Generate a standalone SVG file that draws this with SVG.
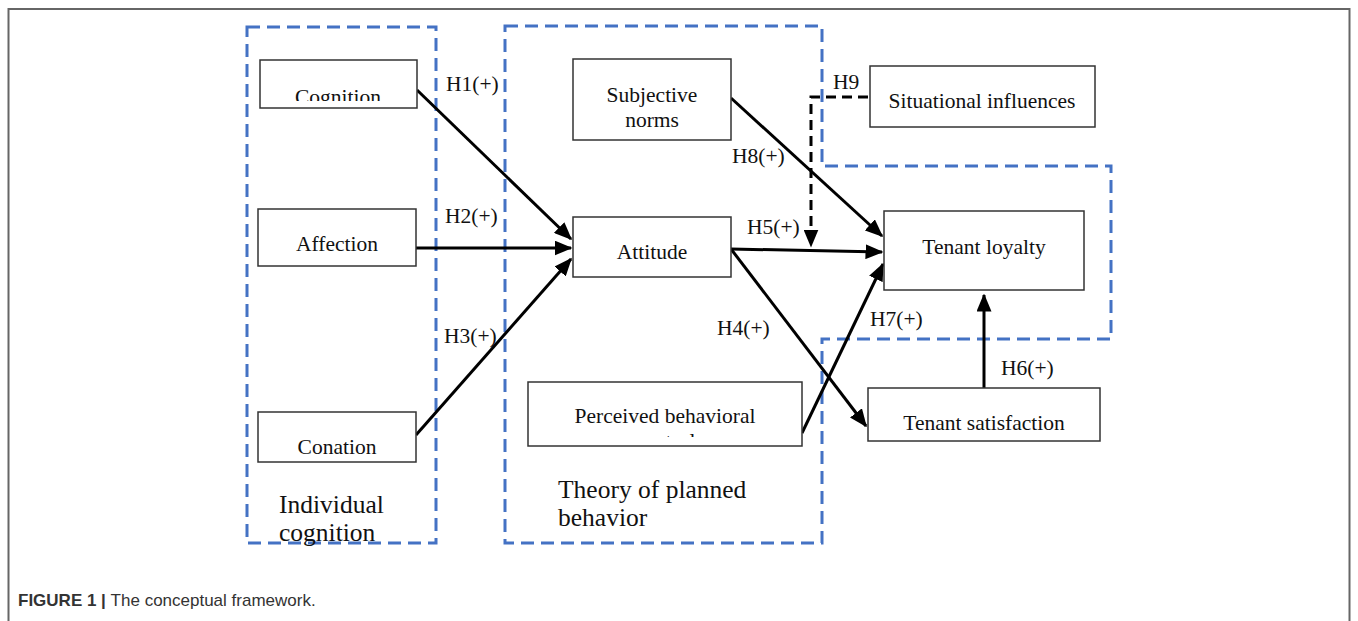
<svg xmlns="http://www.w3.org/2000/svg" width="1358" height="621" viewBox="0 0 1358 621">
<style>
.box{fill:#fff;stroke:#333;stroke-width:1.5}
.t{font-family:"Liberation Serif","Times New Roman",serif;font-size:21.5px;fill:#111}
.tc{text-anchor:middle}
.big{font-size:25.5px}
.grp{fill:none;stroke:#4472C4;stroke-width:3;stroke-dasharray:13 7}
.c{fill:none;stroke:#000;stroke-width:3}
.d{fill:none;stroke:#000;stroke-width:3;stroke-dasharray:10 6}
.cap{font-family:"Liberation Sans",Arial,sans-serif;font-size:17px;fill:#333}
</style>
<defs>
<marker id="ah" markerWidth="6" markerHeight="5" refX="5.5" refY="2.5" orient="auto" markerUnits="strokeWidth">
<path d="M0,0 L6,2.5 L0,5 Z" fill="#000"/>
</marker>
<clipPath id="clipCog"><rect x="260" y="60" width="157" height="41"/></clipPath>
<clipPath id="clipPbc"><rect x="528" y="382" width="274" height="55"/></clipPath>
</defs>
<rect width="1358" height="621" fill="#fff"/>
<rect x="8.5" y="9" width="1341" height="640" fill="none" stroke="#666" stroke-width="2"/>

<g id="group-individual-cognition">
<rect class="grp" x="247" y="27" width="189" height="516"/>
<text class="t big" x="279" y="513">Individual</text>
<text class="t big" x="279" y="541">cognition</text>
</g>
<g id="group-tpb">
<path class="grp" d="M505,26 H822 V166 H1111 V339 H822 V543 H505 Z"/>
<text class="t big" x="558" y="498">Theory of planned</text>
<text class="t big" x="558" y="526">behavior</text>
</g>

<g id="connectors">
<path class="c" d="M417,90 L571,239" marker-end="url(#ah)"/>
<path class="c" d="M416,248 L571,248" marker-end="url(#ah)"/>
<path class="c" d="M416,435 L571,259" marker-end="url(#ah)"/>
<path class="c" d="M731,249 L882,252" marker-end="url(#ah)"/>
<path class="c" d="M731,98 L882,236" marker-end="url(#ah)"/>
<path class="c" d="M731,249 L866,426" marker-end="url(#ah)"/>
<path class="c" d="M802,433 L883,264" marker-end="url(#ah)"/>
<path class="c" d="M984,388 L984,295" marker-end="url(#ah)"/>
<path class="d" d="M868,97 H811 V246" marker-end="url(#ah)"/>
<text class="t" x="446" y="91">H1(+)</text>
<text class="t" x="445" y="223">H2(+)</text>
<text class="t" x="444" y="343">H3(+)</text>
<text class="t" x="732" y="163">H8(+)</text>
<text class="t" x="747" y="234">H5(+)</text>
<text class="t" x="717" y="335">H4(+)</text>
<text class="t" x="870" y="326">H7(+)</text>
<text class="t" x="1001" y="375">H6(+)</text>
<text class="t" x="833" y="89">H9</text>
</g>

<g id="node-cognition">
<rect class="box" x="260" y="60" width="157" height="48"/>
<text class="t tc" x="338" y="104" clip-path="url(#clipCog)">Cognition</text>
</g>
<g id="node-affection">
<rect class="box" x="258" y="209" width="158" height="57"/>
<text class="t tc" x="337" y="251">Affection</text>
</g>
<g id="node-conation">
<rect class="box" x="258" y="412" width="158" height="50"/>
<text class="t tc" x="337" y="454">Conation</text>
</g>
<g id="node-subjective-norms">
<rect class="box" x="573" y="59" width="158" height="81"/>
<text class="t tc" x="652" y="102">Subjective</text>
<text class="t tc" x="652" y="127">norms</text>
</g>
<g id="node-attitude">
<rect class="box" x="573" y="217" width="158" height="60"/>
<text class="t tc" x="652" y="259">Attitude</text>
</g>
<g id="node-pbc">
<rect class="box" x="528" y="382" width="274" height="64"/>
<text class="t tc" x="665" y="423">Perceived behavioral</text>
<text class="t tc" x="665" y="448" clip-path="url(#clipPbc)">control</text>
</g>
<g id="node-situational">
<rect class="box" x="870" y="66" width="225" height="61"/>
<text class="t tc" x="982" y="108">Situational influences</text>
</g>
<g id="node-tenant-loyalty">
<rect class="box" x="884" y="211" width="200" height="79"/>
<text class="t tc" x="984" y="254">Tenant loyalty</text>
</g>
<g id="node-tenant-satisfaction">
<rect class="box" x="868" y="388" width="232" height="53"/>
<text class="t tc" x="984" y="430">Tenant satisfaction</text>
</g>

<text class="cap" x="18" y="606"><tspan font-weight="bold">FIGURE 1 | </tspan>The conceptual framework.</text>
</svg>
